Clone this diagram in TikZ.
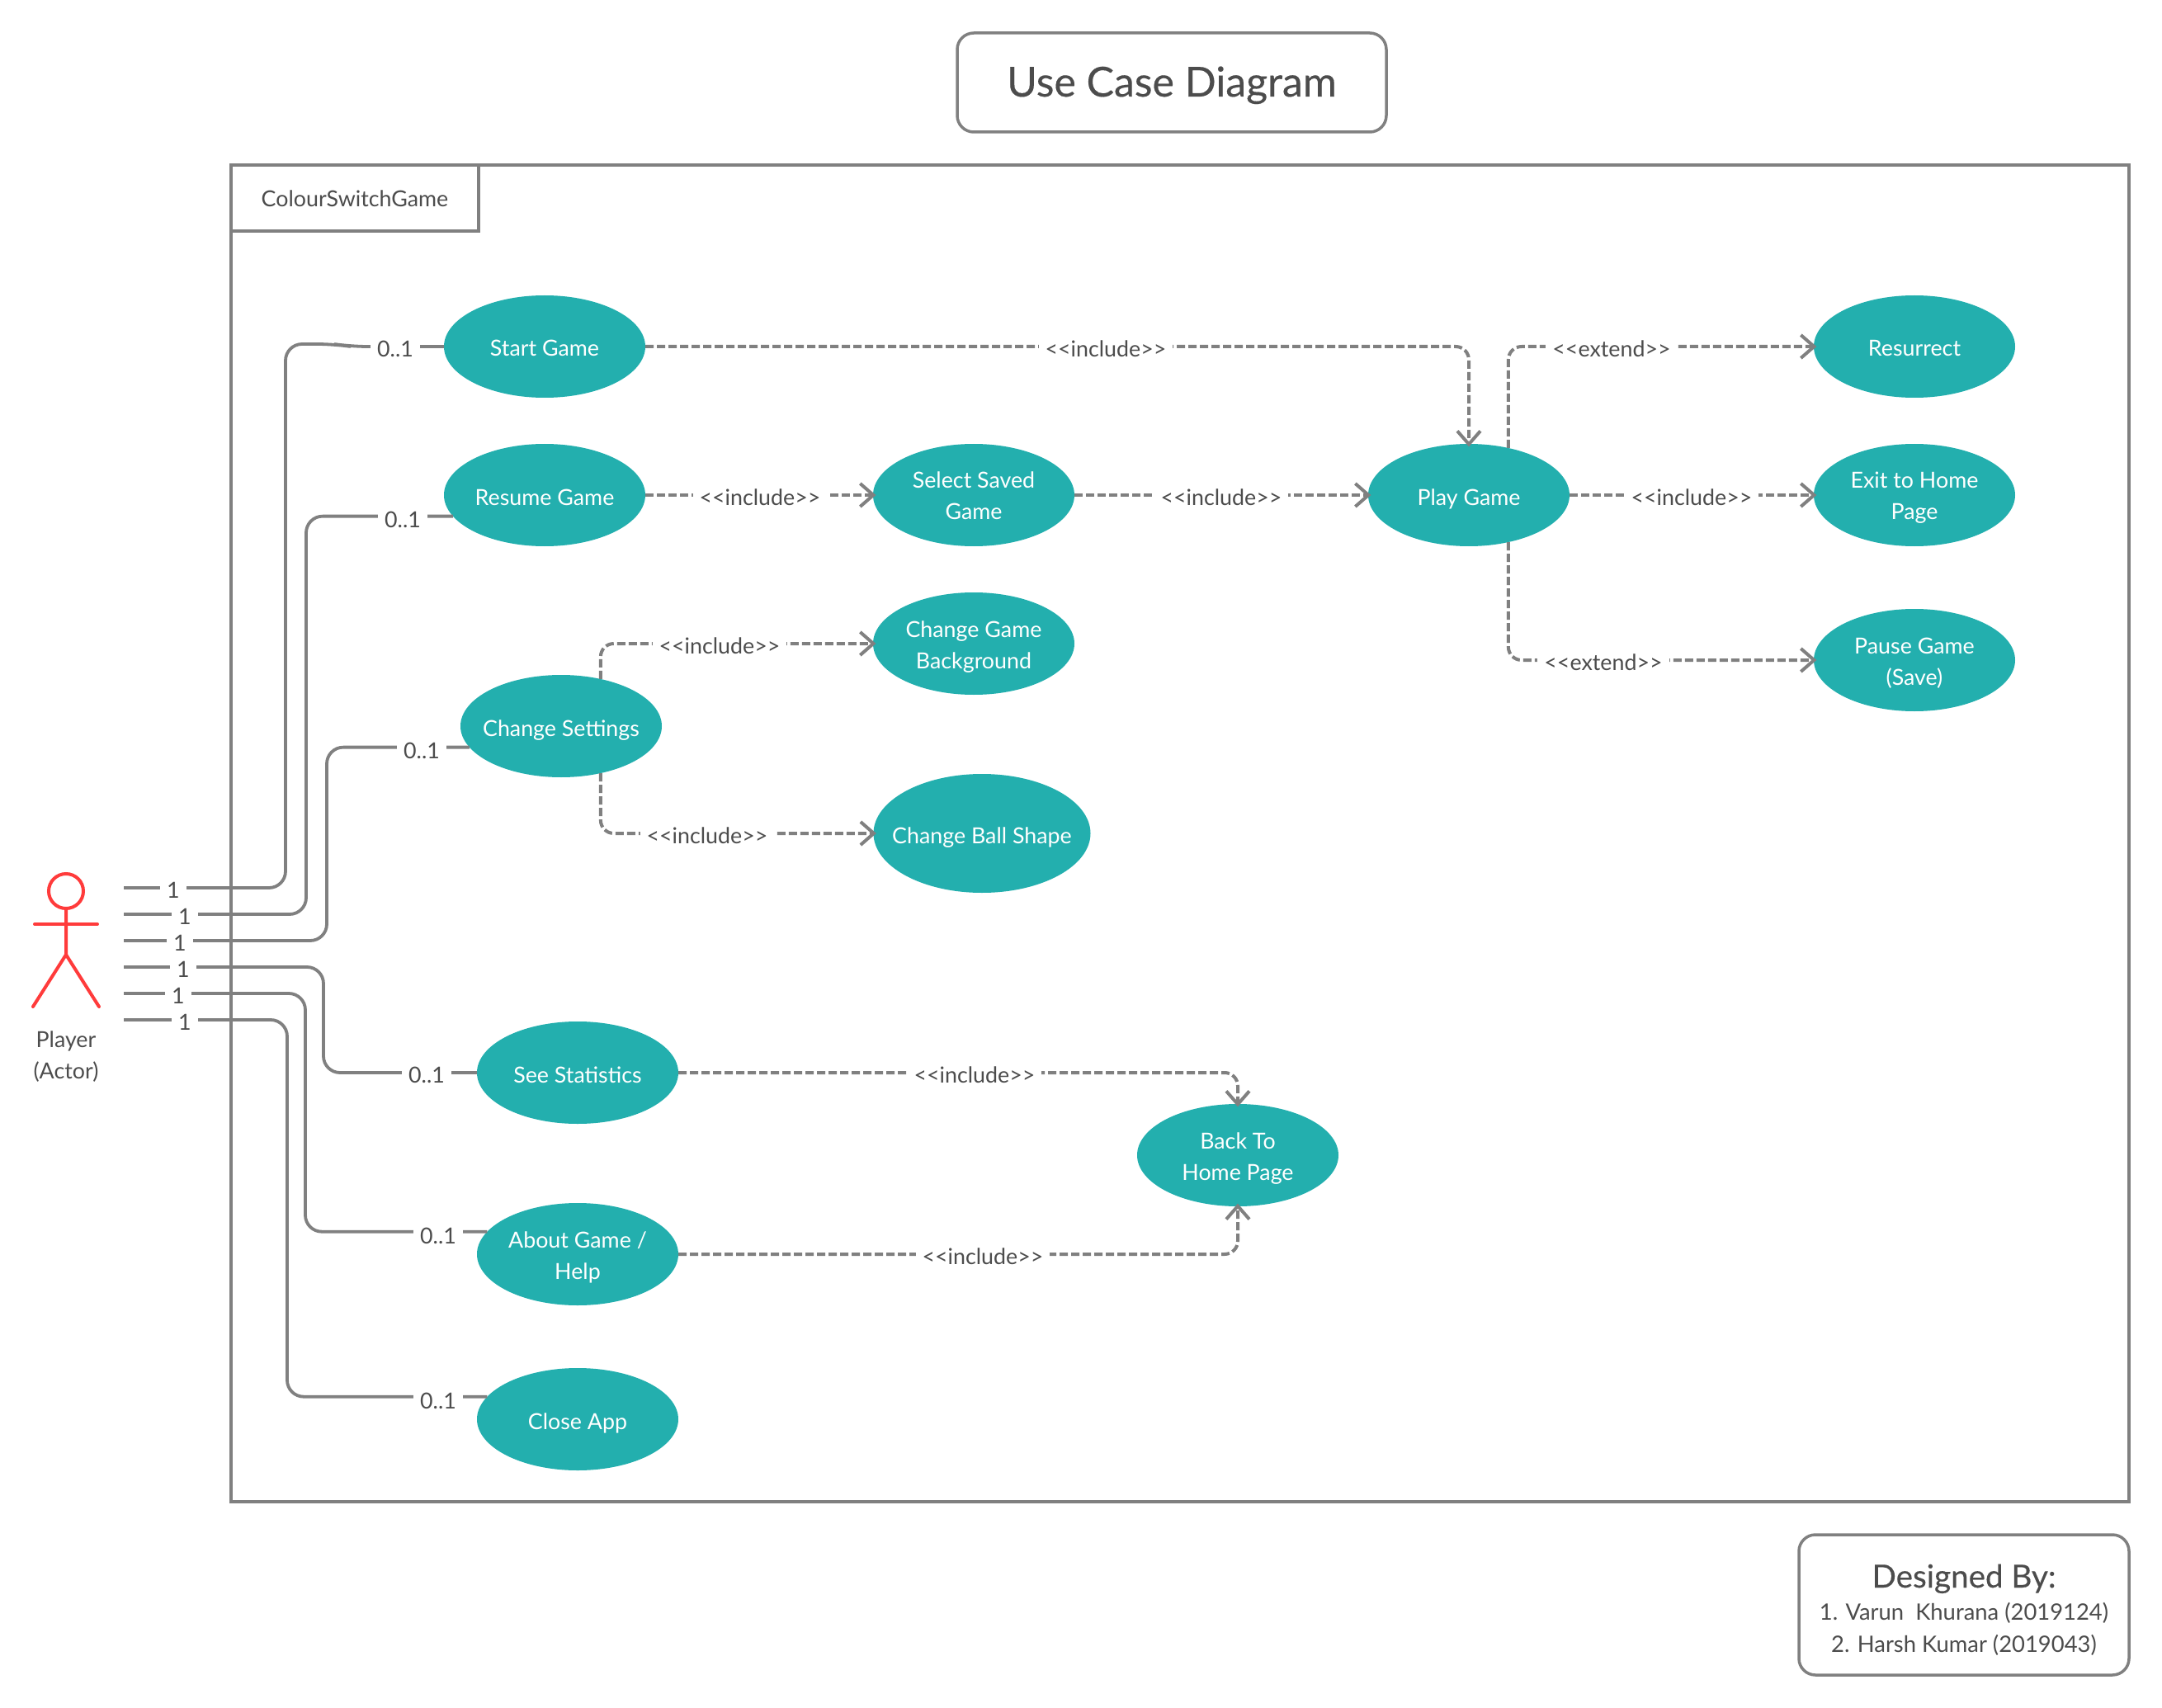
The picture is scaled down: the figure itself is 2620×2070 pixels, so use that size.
\documentclass[tikz,border=0pt]{standalone}
\usepackage{fontspec}
\setmainfont{Lato}
\newfontfamily\heavyfont{Lato}[FakeBold=0.3]
\usepackage{tikz}
\usetikzlibrary{arrows.meta}
\usetikzlibrary{shapes.geometric,positioning}
\definecolor{tealcase}{HTML}{23AFAE}
\definecolor{linegray}{HTML}{808080}
\definecolor{textgray}{HTML}{4C4C4C}
\definecolor{actorred}{HTML}{FF3B3B}
\newcommand{\stereo}[1]{<{}<#1>{}>}
\tikzset{usecase/.style={ellipse, fill=tealcase, text=white, align=center, inner xsep=-40pt, inner ysep=-15pt, outer sep=0pt, minimum width=122pt, minimum height=62pt, text height=12pt, text depth=0pt, font=\fontsize{13.4}{19}\selectfont}}
\tikzset{usecasetwo/.style={usecase, text height=30pt, text depth=0pt}}
\tikzset{box/.style={draw=linegray, line width=1.75pt, text=textgray, align=center, inner sep=0pt, outer sep=0pt}}
\tikzset{assoc/.style={draw=linegray, line width=1.9pt, rounded corners=10pt}}
\tikzset{dep/.style={draw=linegray, line width=2pt, rounded corners=8pt, dash pattern=on 5pt off 2pt, shorten >=-1.7pt, -{Straight Barb[length=8pt,width=14pt]}}}
\tikzset{lab/.style={fill=white, text=textgray, inner xsep=4pt, inner ysep=2pt, text height=12.5pt, text depth=0pt, font=\fontsize{13.4}{19}\selectfont}}
\tikzset{stick/.style={draw=actorred, line width=2pt, line cap=round}}

\begin{document}
\begin{tikzpicture}[x=0.5pt,y=-0.5pt]
			\useasboundingbox (0,0) rectangle (2620,2070);
			\node [box, minimum width=1150pt, minimum height=810pt]  (frame)   at (1430,1010) {};
			\node [box, minimum width=150pt, minimum height=40pt, text height=11pt, text depth=0pt, font=\fontsize{13.4}{19}\selectfont]  (tab)  at (430,240) {ColourSwitchGame};
			\node [box, rounded corners=10pt, minimum width=260pt, minimum height=60pt, text height=17pt, text depth=0pt, font=\fontsize{25}{30}\heavyfont]  (title)  at (1420,100) {Use Case Diagram};
			\node [box, rounded corners=10pt, minimum width=200pt, minimum height=85pt, text height=57pt, text depth=0pt, font=\fontsize{13.7}{19.5}\selectfont]  (credits)  at (2380,1945) {{\fontsize{19.3}{24}\heavyfont Designed By:}\\1. Varun\ \ Khurana (2019124)\\2. Harsh Kumar (2019043)};
			%
			\node [usecase]                                 (start)      at (660,420) {Start Game};
			\node [usecase, below=28pt of start]            (resume)     {Resume Game};
			\node [usecasetwo, right=138pt of resume]       (saved)      {Select Saved\\ Game};
			\node [usecase, right=178pt of saved]           (play)       {Play Game};
			\node [usecasetwo, right=148pt of play]         (exit)       {Exit to Home\\ Page};
			\node [usecase, above=28pt of exit]             (resurrect)  {Resurrect};
			\node [usecasetwo, below=38pt of exit]          (pause)      {Pause Game\\ (Save)};
			\node [usecase, below=78pt of resume, xshift=10pt]  (settings)  {Change Settings};
			\node [usecasetwo, below=28pt of saved]         (background) {Change Game\\ Background};
			\node [usecase, below=48pt of background, xshift=5pt, minimum width=131.5pt, minimum height=72pt]  (ball)  {Change Ball Shape};
			\node [usecase, below=148pt of settings, xshift=10pt]  (stats)  {See Statistics};
			\node [usecasetwo, below=48pt of stats]         (about)      {About Game /\\ Help};
			\node [usecase, below=38pt of about]            (close)      {Close App};
			\node [usecasetwo]                              (back)       at (1500,1400) {Back To\\ Home Page};
			%
			\node [draw=actorred, line width=2pt, circle, inner sep=0pt, minimum size=21pt]  (head)  at (80,1080) {};
			\draw [stick] (head.south) -- (80,1157) -- (40,1220);
			\draw [stick] (80,1157) -- (120,1220);
			\draw [stick] (42,1120) -- (118,1120);
			\node [text=textgray, align=center, font=\fontsize{13.4}{19}\selectfont]  (player)  at (80,1281) {Player\\ (Actor)};
			%
			\coordinate (a1) at (150,1076);
			\coordinate (a2) at (150,1108);
			\coordinate (a3) at (150,1140);
			\coordinate (a4) at (150,1172);
			\coordinate (a5) at (150,1204);
			\coordinate (a6) at (150,1236);
			\path [assoc] (a1) -- (346,1076) |- (405,417) -- (425,420) -- (start.west);
			\path [assoc] (a2) -- (371,1108) |- (resume.193.6);
			\path [assoc] (a3) -- (396,1140) |- (settings.193.6);
			\path [assoc] (a4) -- (392,1172) |- (stats.west);
			\path [assoc] (a5) -- (370,1204) |- (about.166.9);
			\path [assoc] (a6) -- (348,1236) |- (close.166.9);
			%
			\node [lab]  (n1)  at (210,1076) {1};
			\node [lab]  (n2)  at (224,1108) {1};
			\node [lab]  (n3)  at (218,1140) {1};
			\node [lab]  (n4)  at (222,1172) {1};
			\node [lab]  (n5)  at (216,1204) {1};
			\node [lab]  (n6)  at (224,1236) {1};
			\node [lab]  (m1)  at (479,420) {0..1};
			\node [lab]  (m2)  at (488,627) {0..1};
			\node [lab]  (m3)  at (511,907) {0..1};
			\node [lab]  (m4)  at (517,1300) {0..1};
			\node [lab]  (m5)  at (531,1495) {0..1};
			\node [lab]  (m6)  at (531,1695) {0..1};
			%
			\path [dep] (start.east) -| (play.north);
			\path [dep] (resume.east) -- (saved.west);
			\path [dep] (saved.east) -- (play.west);
			\path [dep] (play.50) |- (resurrect.west);
			\path [dep] (play.east) -- (exit.west);
			\path [dep] (play.-50) |- (pause.west);
			\path [dep] (settings.50) |- (background.west);
			\path [dep] (settings.-50) |- (ball.west);
			\path [dep] (stats.east) -| (back.north);
			\path [dep] (about.east) -| (back.south);
			%
			\node [lab]  (d1)  at (1340,420) {\stereo{include}};
			\node [lab]  (d2)  at (921,600) {\stereo{include}};
			\node [lab]  (d3)  at (1480,600) {\stereo{include}};
			\node [lab]  (d4)  at (1953,420) {\stereo{extend}};
			\node [lab]  (d5)  at (2050,600) {\stereo{include}};
			\node [lab]  (d6)  at (1943,800) {\stereo{extend}};
			\node [lab]  (d7)  at (872,780) {\stereo{include}};
			\node [lab]  (d8)  at (857,1010) {\stereo{include}};
			\node [lab]  (d9)  at (1181,1300) {\stereo{include}};
			\node [lab]  (d10) at (1191,1520) {\stereo{include}};
\end{tikzpicture}
\end{document}
